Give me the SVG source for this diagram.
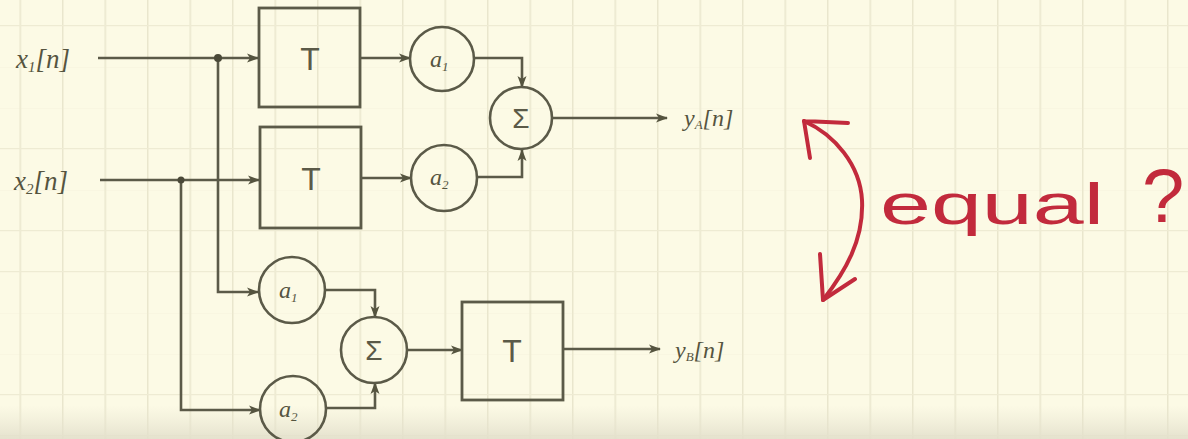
<svg xmlns="http://www.w3.org/2000/svg" width="1188" height="439" viewBox="0 0 1188 439">
  <defs>
    <marker id="arr" viewBox="0 0 12 10" refX="11" refY="5" markerWidth="12" markerHeight="10" markerUnits="userSpaceOnUse" orient="auto">
      <path d="M0,0.5 L12,5 L0,9.5 L3,5 Z" fill="#55543f"/>
    </marker>
    <pattern id="grid" width="42.5" height="41" patternUnits="userSpaceOnUse" x="19.5" y="25">
      <path d="M0,0 V41" fill="none" stroke="#e9e6cd" stroke-width="3"/>
      <path d="M0,0 H42.5" fill="none" stroke="#eeebd3" stroke-width="2.5"/>
    </pattern>
    <linearGradient id="floor" x1="0" y1="0" x2="0" y2="1">
      <stop offset="0" stop-color="#e9e6d2" stop-opacity="0"/>
      <stop offset="1" stop-color="#e2dfcb" stop-opacity="0.9"/>
    </linearGradient>
  </defs>
  <style>
    .wire { fill: none; stroke: #5b5a48; stroke-width: 2.6; stroke-linejoin: miter; }
    .box { fill: none; stroke: #5b5a48; stroke-width: 2.8; }
    .node { fill: none; stroke: #5b5a48; stroke-width: 2.6; }
    .dot { fill: #4a4938; }
    .lbl { font-family: "Liberation Serif", serif; font-style: italic; fill: #55543f; }
    .sym { font-family: "Liberation Sans", sans-serif; fill: #5b5a48; text-anchor: middle; }
    .red { fill: none; stroke: #c22a3c; stroke-width: 4; stroke-linecap: round; stroke-linejoin: round; }
    .redtxt { font-family: "Liberation Sans", sans-serif; fill: #c22a3c; }
  </style>

  <!-- paper -->
  <rect width="1188" height="439" fill="#fcfae5"/>
  <rect width="1188" height="439" fill="url(#grid)"/>
  <rect y="405" width="1188" height="34" fill="url(#floor)"/>

  <!-- connectors -->
  <g id="connectors">
    <path class="wire" d="M98,58 H258" marker-end="url(#arr)"/>
    <path class="wire" d="M100,180 H259" marker-end="url(#arr)"/>
    <path class="wire" d="M218,58 V292 H258" marker-end="url(#arr)"/>
    <path class="wire" d="M181,180 V410 H260" marker-end="url(#arr)"/>
    <path class="wire" d="M361,58 H410" marker-end="url(#arr)"/>
    <path class="wire" d="M361,178 H411" marker-end="url(#arr)"/>
    <path class="wire" d="M475,58 H522 V87" marker-end="url(#arr)"/>
    <path class="wire" d="M477,177 H522 V150" marker-end="url(#arr)"/>
    <path class="wire" d="M552,118 H667" marker-end="url(#arr)"/>
    <path class="wire" d="M325,290 H375 V317" marker-end="url(#arr)"/>
    <path class="wire" d="M326,408 H375 V383" marker-end="url(#arr)"/>
    <path class="wire" d="M407,350 H462" marker-end="url(#arr)"/>
    <path class="wire" d="M563,349 H660" marker-end="url(#arr)"/>
    <circle class="dot" cx="218" cy="58" r="4"/>
    <circle class="dot" cx="181" cy="180" r="3.5"/>
  </g>

  <!-- inputs -->
  <g id="x1">
    <text class="lbl" x="16" y="68" font-size="27">x<tspan font-size="15" dy="4">1</tspan><tspan dy="-4">[n]</tspan></text>
  </g>
  <g id="x2">
    <text class="lbl" x="14" y="190" font-size="27">x<tspan font-size="15" dy="4">2</tspan><tspan dy="-4">[n]</tspan></text>
  </g>

  <!-- upper path: T then scale then sum -->
  <g id="T1">
    <rect class="box" x="259" y="8" width="101" height="99"/>
    <text class="sym" x="310" y="70" font-size="32">T</text>
  </g>
  <g id="T2">
    <rect class="box" x="260" y="127" width="101" height="101"/>
    <text class="sym" x="311" y="190" font-size="32">T</text>
  </g>
  <g id="a1A">
    <circle class="node" cx="442" cy="59" r="32"/>
    <text class="lbl" x="430" y="67" font-size="24">a<tspan font-size="13" dy="4">1</tspan></text>
  </g>
  <g id="a2A">
    <circle class="node" cx="444" cy="178" r="33"/>
    <text class="lbl" x="430" y="185" font-size="24">a<tspan font-size="13" dy="4">2</tspan></text>
  </g>
  <g id="sumA">
    <circle class="node" cx="521" cy="118" r="31"/>
    <text class="sym" x="521" y="128" font-size="28">Σ</text>
  </g>
  <g id="yA">
    <text class="lbl" x="684" y="126" font-size="24">y<tspan font-size="13" dy="3">A</tspan><tspan dy="-3">[n]</tspan></text>
  </g>

  <!-- lower path: scale then sum then T -->
  <g id="a1B">
    <circle class="node" cx="292" cy="290" r="33"/>
    <text class="lbl" x="279" y="298" font-size="24">a<tspan font-size="13" dy="4">1</tspan></text>
  </g>
  <g id="a2B">
    <circle class="node" cx="293" cy="409" r="33"/>
    <text class="lbl" x="279" y="417" font-size="24">a<tspan font-size="13" dy="4">2</tspan></text>
  </g>
  <g id="sumB">
    <circle class="node" cx="374" cy="350" r="33"/>
    <text class="sym" x="374" y="360" font-size="28">Σ</text>
  </g>
  <g id="T3">
    <rect class="box" x="462" y="302" width="101" height="98"/>
    <text class="sym" x="512" y="362" font-size="32">T</text>
  </g>
  <g id="yB">
    <text class="lbl" x="675" y="358" font-size="24">y<tspan font-size="13" dy="3">B</tspan><tspan dy="-3">[n]</tspan></text>
  </g>

  <!-- red annotation -->
  <g id="equal">
    <path class="red" d="M804,121 C835,135 860,165 862,200 C864,240 845,272 823,300"/>
    <path class="red" d="M804,121 L848,123 M804,121 L810,158"/>
    <path class="red" d="M823,300 L820,254 M823,300 L855,279"/>
    <text class="redtxt" x="880" y="224" font-size="58" textLength="224" lengthAdjust="spacingAndGlyphs">equal</text>
    <text class="redtxt" x="1142" y="222" font-size="76">?</text>
  </g>
</svg>
